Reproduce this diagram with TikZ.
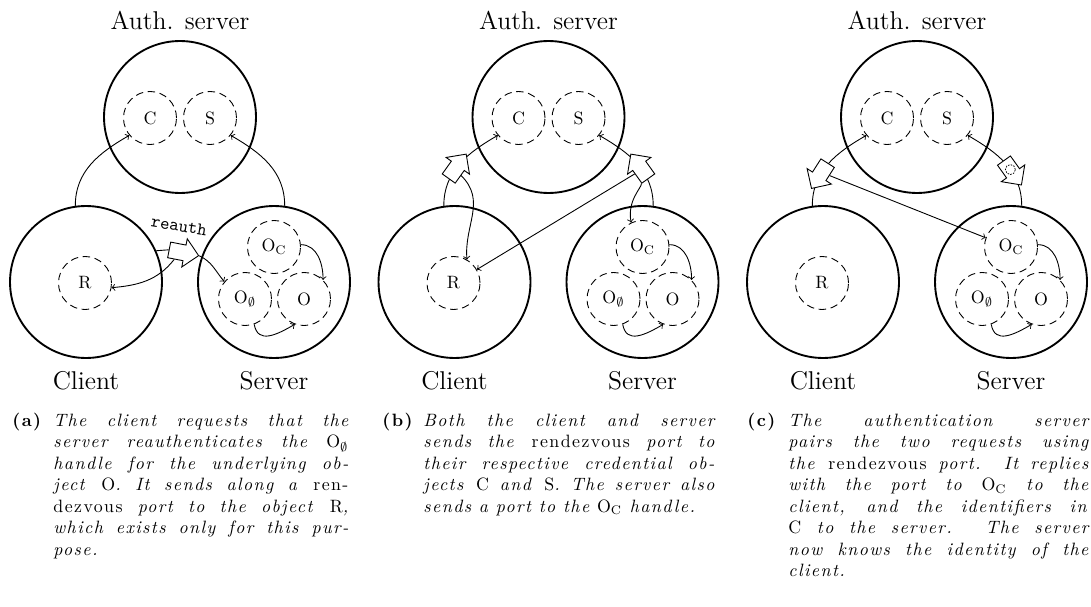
\documentclass[tikz,border=0pt]{standalone}
\usepackage{fontspec}
\usetikzlibrary{shapes.arrows}

% slightly letter-spaced serif for the sub-captions
\newfontfamily\captfont{lmroman10}[Extension=.otf, UprightFont=*-regular, BoldFont=*-bold,
  ItalicFont=*-italic, BoldItalicFont=*-bolditalic, LetterSpace=8]

\tikzset{
  party/.style={circle, draw, line width=1.05pt, minimum size=85.1pt, inner sep=0pt},
  obj/.style={circle, draw, line width=0.5pt, dash pattern=on 4.2pt off 2.6pt, minimum size=29.7pt, inner sep=0pt},
  msg/.style={single arrow, draw, fill=white, line width=0.5pt, inner xsep=0pt, inner ysep=4.2pt,
              minimum height=16.8pt, single arrow head extend=3.6pt},
  link/.style={line width=0.5pt, ->},
  biglabel/.style={font=\Large, anchor=base, inner sep=0pt},
  port/.style={circle, draw, line width=0.4pt, dash pattern=on 0.9pt off 0.7pt, minimum size=5.6pt, inner sep=0pt},
  capt/.style={anchor=base west, inner sep=0pt},
}

% the three parties, their objects and the handle links inside the server
\newcommand\drawparties[1]{%
  \node[party] (auth#1) at (180,-117) {};
  \node[party] (client#1) at (86,-282) {};
  \node[party] (server#1) at (274,-282) {};
  \node[obj] (C#1) at (150,-118) {C};
  \node[obj] (S#1) at (210,-118) {S};
  \node[obj] (R#1) at (85,-283) {R};
  \node[obj] (OC#1) at (274,-247) {$\mathrm{O}_\mathrm{C}$};
  \node[obj] (Oe#1) at (245,-299) {$\mathrm{O}_\emptyset$};
  \node[obj] (O#1) at (304,-299) {O};
  \node[biglabel] (lauth#1) at (180,-29.3) {Auth. server};
  \node[biglabel] (lclient#1) at (86,-389.3) {Client};
  \node[biglabel] (lserver#1) at (274,-389.3) {Server};
  \draw[link] (OC#1.5) to[out=0, in=90] (O#1.45);
  \draw[link] (Oe#1.-70) to[out=-80, in=-150, looseness=1.3] (O#1.-110);
}

% caption with a bold tag and a hanging indent
\newcommand\subcap[3]{%
  \parbox[t]{#1}{\captfont
  \tolerance=9999\hbadness=10000\hangindent=23pt\hangafter=1\noindent
  \makebox[23pt][l]{\bfseries\upshape(#2)}\itshape #3}}

\begin{document}
\begin{tikzpicture}[x=0.56pt, y=0.56pt]
\useasboundingbox (0,0) rectangle (1091,-606);

% (a) reauthentication request
\begin{scope}
  \drawparties{a}
  \draw[link] (clienta.98) to[out=90, in=210] (Ca.220);
  \draw[link] (servera.82) to[out=90, in=-30] (Sa.-40);
  \node[msg, rotate=-11] (reqa) at (180,-252) {};
  \node[font=\ttfamily, rotate=-9, inner sep=0pt] (reautha) at (179,-226) {reauth};
  \draw[line width=0.5pt] (clienta.24) -- (reqa.tail);
  \draw[link] (reqa) to[out=-125, in=5] (Ra.-10);
  \draw[link] (reqa.tip) to[out=-25, in=130] (Oea.140);
\end{scope}

% (b) both sides send the rendezvous port
\begin{scope}[shift={(368.5,0)}]
  \drawparties{b}
  \draw[link] (clientb.98) to[out=90, in=210]
    node[msg, sloped, allow upside down, pos=0.42] (reqbc) {} (Cb.220);
  \draw[link] (serverb.82) to[out=90, in=-30]
    node[msg, sloped, allow upside down, pos=0.42] (reqbs) {} (Sb.-40);
  \draw[link] (reqbc) to[out=-60, in=95] (Rb.60);
  \draw[link] (reqbs) -- (Rb.30);
  \draw[link] (reqbs) to[out=-115, in=100] (OCb.115);
\end{scope}

% (c) the authentication server replies
\begin{scope}[shift={(737,0)}]
  \drawparties{c}
  \draw[link] (clientc.98) to[out=90, in=210]
    node[msg, sloped, allow upside down, shape border rotate=180, pos=0.38] (repcc) {} (Cc.220);
  \draw[link] (serverc.82) to[out=90, in=-30]
    node[msg, sloped, allow upside down, shape border rotate=180, pos=0.42] (repcs) {} (Sc.-40);
  \node[port] (portc) at (repcs.center) {};
  \draw[link] (repcc) -- (OCc.160);
\end{scope}

% captions
\node[capt] (capa) at (12,-426.5) {\subcap{188.2pt}{a}{The client requests that the\linebreak
  server reauthenticates the $\mathrm{O}_\emptyset$\linebreak
  handle for the underlying ob-\linebreak
  ject \textup{O}. It sends along a \textup{ren-}\linebreak
  \textup{dezvous} port to the object \textup{R},\linebreak
  which exists only for this pur-\linebreak
  pose.}};
\node[capt] (capb) at (382,-426.5) {\subcap{186pt}{b}{Both the client and server\linebreak
  sends the \textup{rendezvous} port to\linebreak
  their respective credential ob-\linebreak
  jects \textup{C} and \textup{S}. The server also\linebreak
  sends a port to the $\mathrm{O}_\mathrm{C}$ handle.}};
\node[capt] (capc) at (747,-426.5) {\subcap{191pt}{c}{The authentication server\linebreak
  pairs the two requests using\linebreak
  the \textup{rendezvous} port. It replies\linebreak
  with the port to $\mathrm{O}_\mathrm{C}$ to the\linebreak
  client, and the identifiers in\linebreak
  \textup{C} to the server. The server\linebreak
  now knows the identity of the\linebreak
  client.}};
\end{tikzpicture}
\end{document}
